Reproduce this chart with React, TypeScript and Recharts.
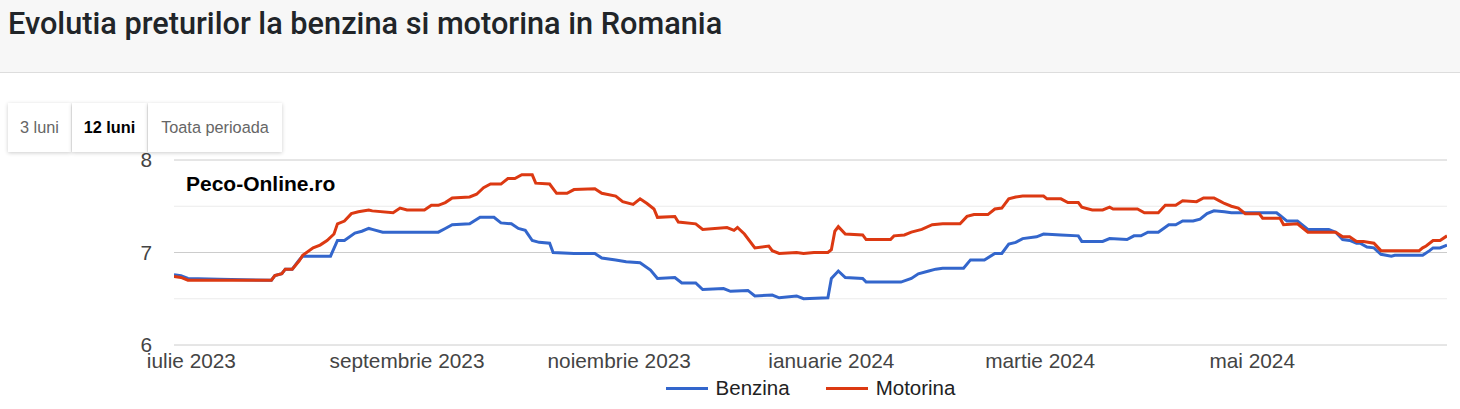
import { LineChart, Line, XAxis, YAxis, CartesianGrid, Legend } from 'recharts';

// days counted from 1 July 2023
const monthTicks = [0, 62, 123, 184, 244, 305];
const monthLabels = ['iulie 2023', 'septembrie 2023', 'noiembrie 2023', 'ianuarie 2024', 'martie 2024', 'mai 2024'];
const priceTicks = [6, 6.5, 7, 7.5, 8];

const benzinaDays = [-5, -3, -1, 8, 23, 24, 26, 27, 29, 31, 32, 40, 42, 44, 47, 49, 51, 52, 55, 63, 69, 71, 73, 75, 80, 83, 87, 89, 92, 94, 96, 98, 100, 103, 104, 110, 116, 118, 122, 125, 129, 132, 134, 139, 141, 145, 147, 153, 155, 160, 162, 167, 169, 174, 176, 183, 184, 186, 188, 193, 194, 204, 207, 209, 212, 214, 216, 222, 224, 228, 231, 233, 235, 237, 239, 243, 245, 250, 255, 256, 262, 264, 269, 271, 273, 275, 278, 281, 283, 285, 288, 290, 292, 294, 297, 299, 312, 313, 315, 318, 321, 327, 329, 331, 333, 335, 336, 338, 340, 342, 345, 346, 354, 356, 357, 359, 361];
const benzinaPrices = [6.76, 6.75, 6.72, 6.71, 6.70, 6.75, 6.77, 6.82, 6.82, 6.92, 6.96, 6.96, 7.13, 7.13, 7.21, 7.23, 7.26, 7.25, 7.22, 7.22, 7.22, 7.22, 7.26, 7.30, 7.31, 7.38, 7.38, 7.32, 7.31, 7.26, 7.24, 7.13, 7.11, 7.10, 7.00, 6.99, 6.99, 6.94, 6.92, 6.90, 6.89, 6.81, 6.72, 6.73, 6.67, 6.67, 6.60, 6.61, 6.58, 6.59, 6.53, 6.54, 6.51, 6.53, 6.50, 6.51, 6.72, 6.80, 6.73, 6.72, 6.68, 6.68, 6.72, 6.77, 6.80, 6.82, 6.83, 6.83, 6.92, 6.92, 6.99, 6.99, 7.09, 7.11, 7.15, 7.17, 7.20, 7.19, 7.18, 7.12, 7.12, 7.15, 7.14, 7.18, 7.18, 7.22, 7.22, 7.30, 7.30, 7.34, 7.34, 7.36, 7.42, 7.45, 7.44, 7.43, 7.43, 7.40, 7.34, 7.34, 7.25, 7.25, 7.22, 7.14, 7.13, 7.10, 7.10, 7.06, 7.05, 6.98, 6.96, 6.97, 6.97, 7.02, 7.05, 7.05, 7.08];

const motorinaDays = [-5, -3, -1, 1, 23, 24, 26, 27, 29, 31, 32, 35, 37, 39, 41, 42, 44, 46, 48, 51, 52, 58, 60, 62, 67, 69, 71, 73, 75, 80, 82, 84, 86, 89, 91, 93, 95, 98, 99, 103, 105, 108, 110, 116, 118, 122, 124, 127, 129, 131, 133, 134, 139, 140, 145, 147, 154, 156, 157, 159, 162, 166, 167, 169, 174, 176, 179, 183, 184, 185, 186, 188, 193, 194, 201, 202, 205, 207, 210, 213, 216, 221, 223, 225, 229, 231, 233, 235, 237, 239, 245, 246, 250, 252, 255, 256, 259, 262, 264, 265, 272, 274, 278, 280, 283, 285, 289, 291, 294, 296, 297, 299, 301, 303, 307, 308, 313, 314, 318, 321, 329, 331, 333, 335, 337, 340, 342, 353, 354, 355, 357, 359, 361];
const motorinaPrices = [6.74, 6.73, 6.70, 6.70, 6.70, 6.75, 6.77, 6.82, 6.82, 6.91, 6.97, 7.05, 7.08, 7.13, 7.20, 7.31, 7.34, 7.42, 7.44, 7.46, 7.45, 7.43, 7.48, 7.46, 7.46, 7.51, 7.51, 7.54, 7.59, 7.60, 7.63, 7.70, 7.74, 7.74, 7.80, 7.80, 7.84, 7.84, 7.75, 7.74, 7.64, 7.64, 7.68, 7.69, 7.64, 7.61, 7.55, 7.52, 7.58, 7.53, 7.47, 7.38, 7.39, 7.33, 7.31, 7.25, 7.27, 7.24, 7.27, 7.20, 7.05, 7.07, 7.02, 6.99, 7.00, 6.99, 7.00, 7.00, 7.03, 7.23, 7.28, 7.20, 7.19, 7.14, 7.14, 7.18, 7.19, 7.22, 7.25, 7.30, 7.31, 7.31, 7.39, 7.41, 7.41, 7.47, 7.48, 7.58, 7.60, 7.61, 7.61, 7.58, 7.58, 7.54, 7.54, 7.49, 7.46, 7.46, 7.49, 7.47, 7.47, 7.43, 7.43, 7.51, 7.51, 7.56, 7.55, 7.59, 7.59, 7.55, 7.53, 7.50, 7.48, 7.42, 7.42, 7.37, 7.37, 7.30, 7.31, 7.22, 7.22, 7.17, 7.17, 7.12, 7.12, 7.10, 7.02, 7.02, 7.05, 7.07, 7.13, 7.13, 7.18];

const benzinaData = benzinaDays.map((day, i) => ({ day, price: benzinaPrices[i] }));
const motorinaData = motorinaDays.map((day, i) => ({ day, price: motorinaPrices[i] }));

const BLUE = '#3366cc';
const RED = '#dc3912';
const FONT = 'Arial, "Liberation Sans", sans-serif';

const legendItems = [
  { name: 'Benzina', color: BLUE },
  { name: 'Motorina', color: RED },
];

function ChartLegend() {
  return (
    <div style={{ display: 'flex', justifyContent: 'center', alignItems: 'center', gap: 36, fontFamily: FONT, fontSize: 20.5, color: '#222' }}>
      {legendItems.map((item) => (
        <div key={item.name} style={{ display: 'flex', alignItems: 'center', gap: 8 }}>
          <div style={{ width: 42, height: 3, background: item.color }} />
          <span>{item.name}</span>
        </div>
      ))}
    </div>
  );
}

// major lines at whole values, light ones at the halves
function GridLine(props: any) {
  const major = props.index % 2 === 0;
  return (
    <line
      key={props.key}
      x1={props.x1}
      y1={props.y1}
      x2={props.x2}
      y2={props.y2}
      stroke={major ? '#cccccc' : '#ebebeb'}
      strokeWidth={1}
    />
  );
}

const buttons = [
  { label: '3 luni', active: false, width: 63 },
  { label: '12 luni', active: true, width: 75 },
  { label: 'Toata perioada', active: false, width: 134 },
];

export default function App() {
  return (
    <div style={{ position: 'relative', width: 1460, height: 409, background: '#fff', overflow: 'hidden' }}>
      <style>{'body{margin:0}'}</style>
      <div style={{ position: 'absolute', left: 0, top: 0, width: 1460, height: 72, background: '#f7f7f7', borderBottom: '1px solid #dddddd' }}>
        <div style={{ position: 'absolute', left: 8, top: 6, fontFamily: 'Roboto, sans-serif', fontWeight: 500, fontSize: 30.7, lineHeight: '36px', color: '#212529', whiteSpace: 'nowrap' }}>
          Evolutia preturilor la benzina si motorina in Romania
        </div>
      </div>

      <div style={{ position: 'absolute', left: 0, top: 135 }}>
        <LineChart width={1460} height={274} margin={{ top: 25, right: 13, bottom: 3, left: 0 }}>
          <CartesianGrid vertical={false} horizontal={GridLine} />
          <XAxis
            type="number"
            dataKey="day"
            domain={[-5, 361]}
            ticks={monthTicks}
            tickFormatter={(v: number) => monthLabels[monthTicks.indexOf(v)] ?? ''}
            axisLine={false}
            tickLine={false}
            height={31}
            interval={0}
            allowDataOverflow
            tick={{ fontSize: 20.8, fill: '#444', fontFamily: FONT }}
          />
          <YAxis
            type="number"
            domain={[6, 8]}
            ticks={priceTicks}
            tickFormatter={(v: number) => (Number.isInteger(v) ? String(v) : '')}
            axisLine={false}
            tickLine={false}
            width={174}
            tickSize={6}
            tickMargin={16}
            interval={0}
            tick={{ fontSize: 20.8, fill: '#444', fontFamily: FONT }}
          />
          <Legend
            verticalAlign="bottom"
            height={30}
            content={() => <ChartLegend />}
            wrapperStyle={{ left: 174, width: 1273 }}
          />
          <Line data={benzinaData} dataKey="price" name="Benzina" type="linear" stroke={BLUE} strokeWidth={3} dot={false} activeDot={false} isAnimationActive={false} />
          <Line data={motorinaData} dataKey="price" name="Motorina" type="linear" stroke={RED} strokeWidth={3} dot={false} activeDot={false} isAnimationActive={false} />
        </LineChart>
      </div>

      <div style={{ position: 'absolute', left: 186, top: 172, fontFamily: FONT, fontWeight: 700, fontSize: 21, lineHeight: '24px', color: '#000' }}>
        Peco-Online.ro
      </div>

      <div style={{ position: 'absolute', left: 8, top: 103, display: 'flex' }}>
        {buttons.map((b) => (
          <div
            key={b.label}
            style={{
              width: b.width,
              height: 49,
              marginRight: 1,
              background: '#fff',
              boxShadow: '0 1px 4px rgba(0,0,0,0.2)',
              display: 'flex',
              alignItems: 'center',
              justifyContent: 'center',
              fontFamily: FONT,
              fontSize: 16.3,
              fontWeight: b.active ? 700 : 400,
              color: b.active ? '#000' : '#666',
            }}
          >
            {b.label}
          </div>
        ))}
      </div>
    </div>
  );
}
